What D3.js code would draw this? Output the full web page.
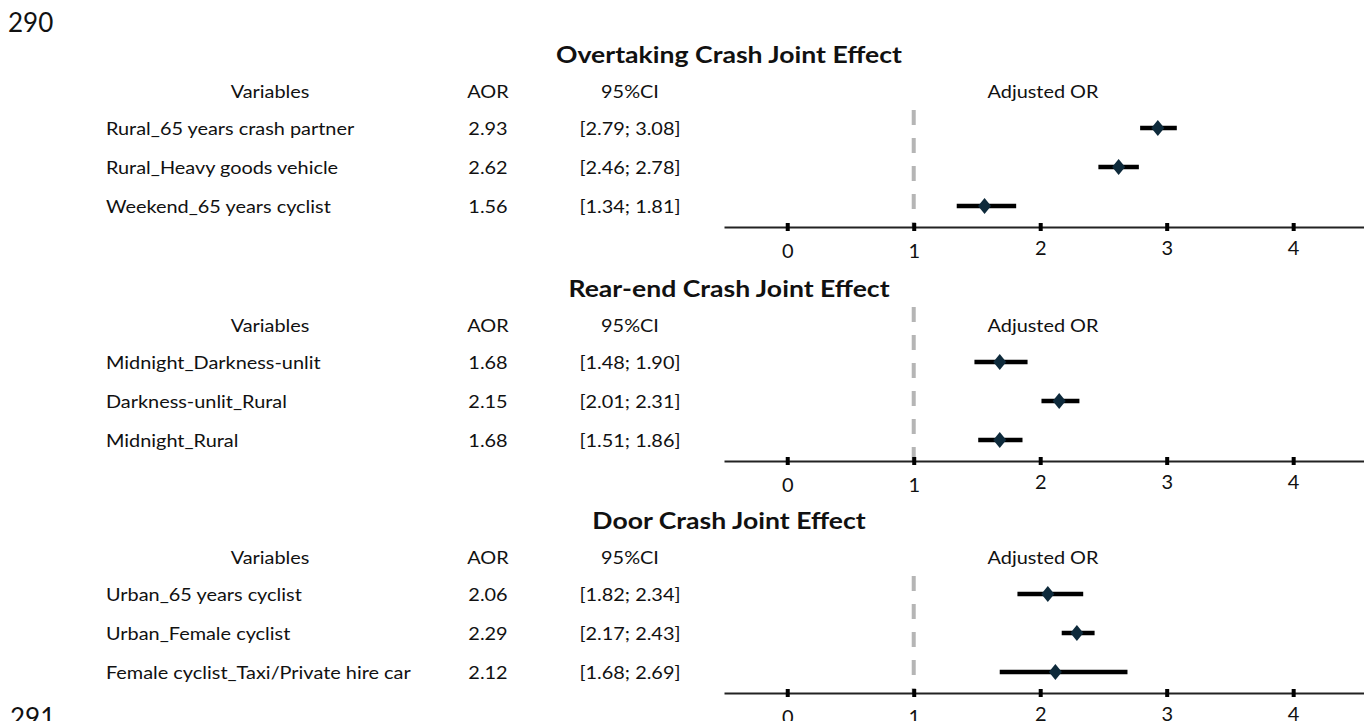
<!DOCTYPE html>
<html>
<head>
<meta charset="utf-8">
<script src="https://cdn.jsdelivr.net/npm/d3@7"></script>
<style>
  html, body { margin: 0; padding: 0; background: #fff; }
  svg { display: block; }
</style>
</head>
<body>
<div id="chart"></div>
<script>
// Data
const panelTitles = ["Overtaking Crash Joint Effect", "Rear-end Crash Joint Effect", "Door Crash Joint Effect"];
const headers = ["Variables", "AOR", "95%CI", "Adjusted OR"];
const variables = [
  ["Rural_65 years crash partner", "Rural_Heavy goods vehicle", "Weekend_65 years cyclist"],
  ["Midnight_Darkness-unlit", "Darkness-unlit_Rural", "Midnight_Rural"],
  ["Urban_65 years cyclist", "Urban_Female cyclist", "Female cyclist_Taxi/Private hire car"]
];
const aor = [[2.93, 2.62, 1.56], [1.68, 2.15, 1.68], [2.06, 2.29, 2.12]];
const ciLow = [[2.79, 2.46, 1.34], [1.48, 2.01, 1.51], [1.82, 2.17, 1.68]];
const ciHigh = [[3.08, 2.78, 1.81], [1.90, 2.31, 1.86], [2.34, 2.43, 2.69]];
const tickValues = [0, 1, 2, 3, 4];
const pageNumbers = ["290", "291"];

const width = 1364, height = 721;
const font = "Lato, 'Open Sans', sans-serif";

const svg = d3.select("#chart").append("svg")
  .attr("width", width)
  .attr("height", height)
  .attr("viewBox", `0 0 ${width} ${height}`);

// x scale for the odds ratio plot
const x = d3.scaleLinear().domain([-0.5, 4.56]).range([724, 1364]);

// the source figure is stretched sideways, so fit text widths to it
function measure(str, size, weight) {
  const t = svg.append("text").attr("font-family", font).attr("font-size", size)
    .attr("font-weight", weight).text(str);
  const w = t.node().getComputedTextLength();
  t.remove();
  return w;
}
const bodySize = 16.3, titleSize = 23;
const sxBody = 248 / measure(variables[0][0], bodySize, 400);
const sxTitle = 346 / measure(panelTitles[0], titleSize, 700);

function label(g, str, px, py, anchor, size, weight, sx) {
  return g.append("text")
    .attr("transform", `translate(${px},${py}) scale(${sx},1)`)
    .attr("text-anchor", anchor)
    .attr("font-family", font)
    .attr("font-size", size)
    .attr("font-weight", weight)
    .attr("fill", "#111")
    .text(str);
}

// page line numbers
svg.append("text").attr("x", 8).attr("y", 32).attr("font-family", font)
  .attr("font-size", 26).attr("fill", "#111").text(pageNumbers[0]);
svg.append("text").attr("x", 10).attr("y", 727).attr("font-family", font)
  .attr("font-size", 26).attr("fill", "#111").text(pageNumbers[1]);

const panelShift = [0, 234, 466];
const rowY = [128, 167, 206];
const dashTop = [110, 73, 110];
const headerX = [270, 488, 630, 1043];

panelTitles.forEach((title, p) => {
  const g = svg.append("g").attr("transform", `translate(0,${panelShift[p]})`);
  const axisY = 227;

  label(g, title, 729, 63, "middle", titleSize, 700, sxTitle);

  headers.forEach((h, i) => label(g, h, headerX[i], 97.5, "middle", bodySize, 400, sxBody));

  // reference line at OR = 1
  g.append("line")
    .attr("x1", x(1)).attr("x2", x(1))
    .attr("y1", dashTop[p]).attr("y2", axisY)
    .attr("stroke", "#b5b5b5")
    .attr("stroke-width", 4)
    .attr("stroke-dasharray", "15,13");

  // axis
  const axis = d3.axisBottom(x).tickValues(tickValues).tickSize(0).tickFormat(d3.format("d"));
  const ag = g.append("g").attr("transform", `translate(0,${axisY})`).call(axis);
  ag.attr("font-family", font).attr("font-size", 20);
  ag.select(".domain").attr("stroke", "#222").attr("stroke-width", 2);
  ag.selectAll(".tick text").attr("fill", "#111").attr("dy", null)
    .attr("y", d => d < 2 ? 31 : 28);
  ag.selectAll(".tick").append("rect")
    .attr("x", -2).attr("y", -4).attr("width", 4).attr("height", 8).attr("fill", "#000");

  // table rows and estimates
  variables[p].forEach((v, r) => {
    const y = rowY[r];
    label(g, v, 106, y + 7, "start", bodySize, 400, sxBody);
    label(g, d3.format(".2f")(aor[p][r]), headerX[1], y + 7, "middle", bodySize, 400, sxBody);
    label(g, `[${d3.format(".2f")(ciLow[p][r])}; ${d3.format(".2f")(ciHigh[p][r])}]`,
      headerX[2], y + 7, "middle", bodySize, 400, sxBody);

    g.append("line")
      .attr("x1", x(ciLow[p][r])).attr("x2", x(ciHigh[p][r]))
      .attr("y1", y).attr("y2", y)
      .attr("stroke", "#000")
      .attr("stroke-width", 4.5);

    g.append("path")
      .attr("d", "M0,-8L6.5,0L0,8L-6.5,0Z")
      .attr("transform", `translate(${x(aor[p][r])},${y})`)
      .attr("fill", "#0e2a3b");
  });
});
</script>
</body>
</html>
